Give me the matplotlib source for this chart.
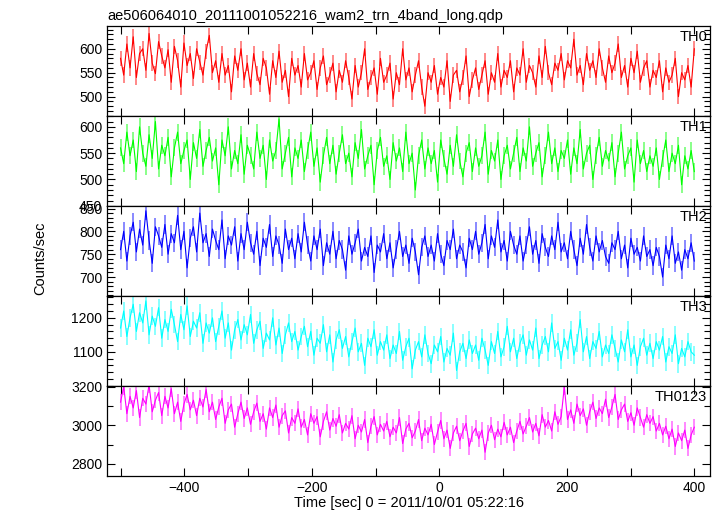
import numpy as np
import matplotlib
matplotlib.use("Agg")
import matplotlib.pyplot as plt
from matplotlib.ticker import MultipleLocator

plt.rcParams['font.family'] = ['Liberation Sans', 'DejaVu Sans']

# light curve values, one bin every ~5 s from -500 to 400 s
t_start, t_end = -500, 400

th0 = [580, 545, 610, 560, 625, 540, 590, 600, 555, 632, 570, 548, 615, 585,
       560, 598, 530, 605, 575, 520, 612, 565, 590, 538, 600, 572, 545, 595,
       628, 550, 575, 530, 590, 545, 565, 510, 585, 555, 600, 535, 570, 520,
       590, 548, 525, 580, 560, 505, 575, 540, 595, 530, 555, 500, 580, 545,
       565, 520, 590, 535, 550, 575, 515, 560, 585, 525, 545, 570, 510, 555,
       530, 575, 540, 495, 565, 520, 550, 600, 515, 540, 560, 505, 580, 530,
       545, 570, 495, 550, 525, 600, 535, 560, 510, 545, 575, 520, 480, 550,
       530, 565, 505, 540, 520, 575, 490, 545, 555, 510, 540, 585, 500, 535,
       560, 515, 545, 575, 505, 550, 530, 590, 520, 555, 540, 575, 510, 560,
       545, 600, 530, 565, 550, 520, 585, 540, 605, 550, 525, 570, 555, 590,
       535, 575, 560, 620, 545, 565, 525, 590, 555, 575, 540, 600, 560, 530,
       585, 550, 570, 610, 540, 565, 520, 580, 550, 595, 530, 560, 575, 520,
       555, 540, 575, 510, 560, 530, 545, 580, 500, 550, 535, 565, 520, 600]

th1 = [560, 530, 590, 545, 575, 515, 600, 550, 525, 585, 540, 610, 520, 565,
       545, 580, 505, 560, 590, 530, 555, 575, 500, 570, 540, 595, 525, 555,
       580, 535, 560, 490, 575, 545, 600, 520, 555, 530, 585, 510, 565, 545,
       520, 590, 540, 565, 500, 575, 535, 555, 615, 520, 550, 580, 505, 560,
       540, 575, 515, 555, 590, 525, 560, 495, 545, 580, 530, 565, 510, 550,
       585, 530, 550, 505, 570, 540, 595, 520, 545, 565, 490, 555, 580, 525,
       545, 500, 570, 535, 560, 515, 590, 530, 550, 480, 545, 575, 520, 560,
       530, 555, 495, 575, 540, 510, 565, 525, 585, 535, 505, 550, 570, 515,
       560, 525, 545, 590, 510, 555, 535, 575, 500, 545, 565, 520, 550, 580,
       515, 560, 535, 600, 525, 550, 570, 505, 545, 590, 530, 560, 515, 555,
       540, 575, 510, 560, 530, 595, 520, 550, 565, 500, 545, 580, 525, 555,
       535, 570, 505, 550, 590, 520, 545, 560, 495, 575, 530, 555, 515, 545,
       525, 560, 500, 540, 575, 515, 550, 530, 565, 490, 545, 520, 555, 515]

th2 = [760, 800, 735, 790, 820, 755, 805, 770, 845, 780, 730, 810, 790, 765,
       815, 750, 795, 775, 835, 760, 800, 720, 785, 810, 755, 840, 775, 795,
       745, 805, 780, 760, 825, 740, 790, 770, 810, 735, 795, 760, 820, 775,
       750, 800, 725, 785, 765, 815, 745, 790, 770, 730, 805, 760, 785, 740,
       795, 755, 820, 770, 735, 790, 760, 805, 725, 775, 750, 800, 740, 780,
       760, 715, 790, 750, 775, 805, 735, 765, 745, 790, 710, 770, 755, 795,
       740, 775, 720, 760, 800, 745, 770, 730, 785, 755, 705, 765, 790, 745,
       770, 735, 795, 750, 725, 780, 760, 805, 740, 770, 755, 720, 785, 760,
       800, 750, 775, 815, 740, 790, 765, 825, 755, 780, 735, 800, 770, 750,
       790, 735, 770, 810, 750, 780, 730, 795, 765, 745, 790, 760, 820, 755,
       775, 740, 800, 760, 725, 785, 750, 815, 765, 735, 790, 755, 780, 745,
       730, 775, 760, 800, 740, 770, 720, 785, 750, 765, 735, 790, 745, 760,
       725, 765, 745, 700, 770, 740, 790, 730, 755, 715, 760, 740, 775, 735]

th3 = [1170, 1220, 1145, 1200, 1240, 1160, 1215, 1185, 1250, 1150, 1205, 1175, 1230, 1140,
       1195, 1160, 1225, 1180, 1130, 1210, 1165, 1235, 1145, 1190, 1170, 1215, 1125, 1185,
       1155, 1200, 1130, 1175, 1220, 1140, 1185, 1105, 1165, 1195, 1135, 1180, 1150, 1210,
       1125, 1165, 1190, 1110, 1155, 1135, 1200, 1120, 1170, 1095, 1150, 1185, 1130, 1160,
       1105, 1145, 1175, 1115, 1160, 1090, 1140, 1125, 1180, 1100, 1150, 1070, 1135, 1165,
       1110, 1145, 1085, 1130, 1170, 1100, 1125, 1060, 1140, 1115, 1165, 1090, 1130, 1105,
       1150, 1080, 1120, 1095, 1160, 1075, 1115, 1140, 1050, 1105, 1130, 1085, 1150, 1095,
       1065, 1120, 1100, 1145, 1070, 1110, 1090, 1155, 1045, 1100, 1125, 1080, 1135, 1095,
       1120, 1075, 1140, 1105, 1060, 1130, 1095, 1160, 1085, 1115, 1175, 1100, 1140, 1080,
       1125, 1150, 1090, 1135, 1105, 1170, 1080, 1120, 1145, 1100, 1185, 1110, 1130, 1075,
       1140, 1105, 1165, 1090, 1125, 1195, 1100, 1145, 1080, 1130, 1110, 1160, 1085, 1120,
       1095, 1150, 1110, 1070, 1135, 1100, 1165, 1085, 1120, 1060, 1115, 1140, 1090, 1125,
       1080, 1130, 1105, 1145, 1070, 1115, 1095, 1150, 1065, 1110, 1085, 1130, 1100, 1090]

th0123 = [3120, 3200, 3060, 3150, 3090, 3180, 3040, 3140, 3110, 3210, 3070, 3130, 3170, 3050,
          3150, 3090, 3190, 3060, 3120, 3020, 3110, 3160, 3080, 3130, 3050, 3140, 3095, 3185,
          3070, 3120, 3030, 3095, 3140, 3010, 3080, 3110, 2990, 3060, 3120, 3035, 3090, 3005,
          3070, 3115, 3020, 3060, 2980, 3090, 3040, 3105, 2990, 3050, 3075, 2960, 3040, 3010,
          3085, 2990, 3030, 2950, 3060, 3010, 3045, 2940, 3020, 3070, 2975, 3035, 2995, 3055,
          2960, 3010, 2980, 3050, 2930, 3000, 2965, 3030, 2910, 2995, 3045, 2950, 3005, 2970,
          3020, 2940, 2990, 2960, 3040, 2905, 2980, 3010, 2935, 2970, 3030, 2920, 2985, 2950,
          3005, 2900, 2965, 3025, 2930, 2975, 2880, 2960, 2995, 2920, 2970, 3010, 2890, 2955,
          2985, 2930, 2975, 2860, 2960, 3000, 2925, 2980, 2940, 3015, 2950, 2990, 2910, 2970,
          3020, 2955, 2995, 3040, 2965, 3010, 2945, 3055, 2990, 3025, 2970, 3070, 3005, 3045,
          3200, 3030, 3080, 3010, 3110, 3050, 3085, 3000, 3070, 3120, 3035, 3090, 3060, 3135,
          3040, 3095, 3160, 3030, 3080, 3110, 3020, 3065, 3000, 3090, 3040, 2990, 3055, 3010,
          3045, 2970, 3010, 2950, 2995, 2930, 2980, 2890, 2960, 2920, 2975, 2880, 2950, 2990]

labels = ['TH0', 'TH1', 'TH2', 'TH3', 'TH0123']
series = [th0, th1, th2, th3, th0123]
errors = [16, 16, 20, 26, 42]
colors = ['#ff0000', '#00ff00', '#0000ff', '#00ffff', '#ff00ff']
ylims = [(460, 648), (450, 621), (659, 856), (1000, 1265), (2738, 3205)]
yticks = [[500, 550, 600], [450, 500, 550, 600], [700, 750, 800, 850],
          [1100, 1200], [2800, 3000, 3200]]
yminor = [10, 10, 10, 20, 100]

fig, axes = plt.subplots(5, 1, figsize=(7.24, 5.16), dpi=100, sharex=True)
fig.subplots_adjust(left=0.148, right=0.981, top=0.950, bottom=0.078, hspace=0)

for i, ax in enumerate(axes):
    y = np.array(series[i])
    t = np.linspace(t_start, t_end, len(y))
    ax.errorbar(t, y, yerr=errors[i], fmt='none', ecolor=colors[i], alpha=0.5,
                elinewidth=1.3)
    ax.plot(t, y, color=colors[i], lw=0.8)
    ax.set_xlim(-521, 425)
    ax.set_ylim(*ylims[i])
    ax.set_yticks(yticks[i])
    ax.yaxis.set_minor_locator(MultipleLocator(yminor[i]))
    ax.xaxis.set_major_locator(MultipleLocator(200))
    ax.xaxis.set_minor_locator(MultipleLocator(100))
    ax.tick_params(which='both', direction='in', top=True, right=True,
                   labelsize=10, width=0.8)
    ax.tick_params(which='major', length=6)
    ax.tick_params(which='minor', length=4)
    ax.tick_params(axis='x', which='minor', length=6)
    for s in ax.spines.values():
        s.set_linewidth(0.9)
    ax.text(0.995, 0.95, labels[i], transform=ax.transAxes, ha='right', va='top',
            fontsize=10.5)

axes[0].set_title('ae506064010_20111001052216_wam2_trn_4band_long.qdp',
                  loc='left', fontsize=10.5, pad=4)
axes[-1].set_xlabel('Time [sec] 0 = 2011/10/01 05:22:16', fontsize=10.5, labelpad=1)
fig.text(0.055, 0.5, 'Counts/sec', rotation=90, va='center', ha='center', fontsize=10.5)

fig.savefig('out.png', dpi=100)
